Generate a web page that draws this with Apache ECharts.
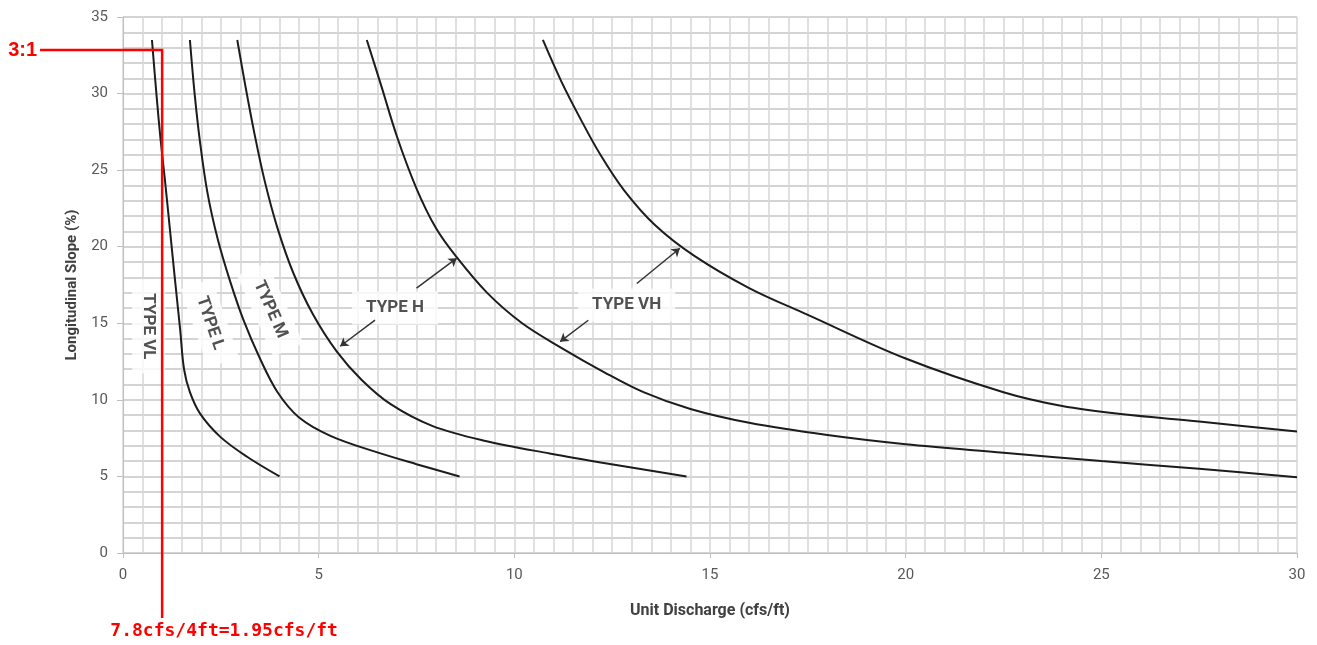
<!DOCTYPE html>
<html>
<head>
<meta charset="utf-8">
<title>Unit Discharge vs Longitudinal Slope</title>
<script src="https://cdn.jsdelivr.net/npm/echarts@6/dist/echarts.min.js"></script>
<style>
  html, body { margin: 0; background: #fff; }
  #main { width: 1317px; height: 645px; }
</style>
</head>
<body>
<div id="main"></div>
<script type="text/javascript">
// boundary curves: [unit discharge (cfs/ft), slope (%)]
var curveVL = [[0.74,33.5],[0.86,29.8],[0.96,27.0],[1.07,24.4],[1.20,21.1],[1.33,17.8],[1.46,14.6],[1.56,12.0],[1.71,10.5],[1.97,9.1],[2.48,7.6],[3.16,6.3],[4.0,5.0]];
var curveL  = [[1.71,33.5],[1.83,30.0],[1.97,26.8],[2.16,23.5],[2.42,20.5],[2.73,17.8],[3.08,15.2],[3.5,12.7],[3.95,10.5],[4.5,8.85],[5.3,7.65],[6.4,6.65],[7.5,5.8],[8.6,5.0]];
var curveM  = [[2.92,33.5],[3.12,30.6],[3.35,27.5],[3.62,24.3],[3.95,21.2],[4.35,18.3],[4.85,15.6],[5.45,13.2],[6.1,11.3],[6.85,9.7],[7.9,8.3],[9.2,7.35],[10.9,6.5],[12.6,5.75],[14.4,5.0]];
var curveH  = [[6.23,33.5],[6.6,30.5],[7.0,27.2],[7.5,23.8],[8.0,21.2],[8.5,19.4],[9.3,17.0],[10.2,15.0],[11.2,13.4],[12.3,11.8],[13.3,10.5],[14.5,9.4],[16.0,8.5],[18.0,7.7],[20.0,7.1],[22.5,6.55],[25.0,6.0],[27.5,5.5],[30,4.95]];
var curveVH = [[10.73,33.5],[11.2,30.8],[11.7,28.3],[12.2,26.0],[12.8,23.7],[13.6,21.4],[14.6,19.4],[16.0,17.3],[17.5,15.55],[20.0,12.7],[22.5,10.5],[24.0,9.6],[25.5,9.07],[27.5,8.58],[30,7.93]];
var curves = [curveVL, curveL, curveM, curveH, curveVH];

// zone labels and where they sit (data space)
var typeNames  = ['TYPE VL', 'TYPE L', 'TYPE M', 'TYPE H', 'TYPE VH'];
var typeAnchor = [[0.65,14.8],[2.22,15.0],[3.76,15.9],[6.95,16.0],[12.87,16.2]];
var typeAngle  = [-90, -71, -66, 0, 0];

// leader arrows: [from, to]
var arrows = [
  [[7.50,17.3],[8.53,19.25]],
  [[6.44,15.2],[5.55,13.5]],
  [[13.13,17.6],[14.23,19.9]],
  [[11.89,15.2],[11.17,13.8]]
];

// red design point annotation (drawn over the image in the original)
var redLine  = [[-2.12,32.85],[1.0,32.85],[1.0,-4.25]];
var redNotes = ['3:1', '7.8cfs/4ft=1.95cfs/ft'];

var gridColorX = '#d6d6d6';
var gridColorY = '#c6c6c6';
var myChart = echarts.init(document.getElementById('main'));

var series = curves.map(function (c) {
  return {
    type: 'line', data: c, smooth: 0.35, symbol: 'none', silent: true, z: 3,
    lineStyle: { color: '#1c1c1c', width: 2 }
  };
});

series.push({
  type: 'scatter', z: 2, symbolSize: 1, silent: true,
  itemStyle: { color: 'transparent' },
  label: {
    show: true, position: 'inside', formatter: '{b}',
    fontFamily: 'Roboto', fontWeight: 'bold', fontSize: 17, color: '#262626',
    backgroundColor: '#fff', padding: [8, 14]
  },
  data: typeNames.map(function (t, i) {
    return { name: t, value: typeAnchor[i], label: { rotate: typeAngle[i] } };
  })
});

series.push({
  type: 'lines', coordinateSystem: 'cartesian2d', z: 4, silent: true,
  symbol: ['none', 'arrow'], symbolSize: 8,
  lineStyle: { color: '#333', width: 1.5, opacity: 1, curveness: 0 },
  data: arrows.map(function (a) { return { coords: a }; })
});

myChart.setOption({
  animation: false,
  grid: { left: 123, right: 20, top: 17, bottom: 92 },
  xAxis: {
    type: 'value', min: 0, max: 30, interval: 5,
    name: 'Unit Discharge (cfs/ft)', nameLocation: 'middle', nameGap: 50,
    nameTextStyle: { fontFamily: 'Roboto', fontWeight: 'bold', fontSize: 16, color: '#404040' },
    axisLine: { show: true, lineStyle: { color: '#bfbfbf' } },
    axisTick: { show: true, length: 5, lineStyle: { color: '#bfbfbf' } },
    axisLabel: { margin: 15, fontFamily: 'Roboto', fontSize: 15, color: '#595959' },
    splitLine: { show: true, lineStyle: { color: gridColorX, width: 1.5 } },
    minorTick: { show: false, splitNumber: 10 },
    minorSplitLine: { show: true, lineStyle: { color: gridColorX, width: 1.5 } }
  },
  yAxis: {
    type: 'value', min: 0, max: 35, interval: 5,
    name: 'Longitudinal Slope (%)', nameLocation: 'middle', nameGap: 42, nameRotate: 90,
    nameTextStyle: { fontFamily: 'Roboto', fontWeight: 'bold', fontSize: 15, color: '#404040' },
    axisLine: { show: true, lineStyle: { color: '#bfbfbf' } },
    axisTick: { show: true, length: 6, lineStyle: { color: '#bfbfbf' } },
    axisLabel: { margin: 15, fontFamily: 'Roboto', fontSize: 15, color: '#595959' },
    splitLine: { show: true, lineStyle: { color: gridColorY, width: 1.5 } },
    minorTick: { show: false, splitNumber: 5 },
    minorSplitLine: { show: true, lineStyle: { color: gridColorY, width: 1.5 } }
  },
  series: series
});

// red annotation, placed through the grid's own scale
var pts = redLine.map(function (p) {
  return myChart.convertToPixel({ gridIndex: 0 }, p);
});
myChart.setOption({
  graphic: [
    {
      type: 'polyline', z: 100, silent: true,
      shape: { points: pts },
      style: { stroke: '#ff0000', lineWidth: 2.5, fill: null }
    },
    {
      type: 'text', z: 100, silent: true,
      x: pts[0][0] - 3, y: pts[0][1] + 1,
      style: { text: redNotes[0], align: 'right', verticalAlign: 'middle',
               fill: '#ff0000', font: 'bold 20px "Liberation Sans"' }
    },
    {
      type: 'text', z: 100, silent: true,
      x: pts[2][0] + 62, y: pts[2][1] + 4,
      style: { text: redNotes[1], align: 'center', verticalAlign: 'top',
               fill: '#ff0000', font: 'bold 18px "DejaVu Sans Mono"' }
    }
  ]
});
</script>
</body>
</html>
